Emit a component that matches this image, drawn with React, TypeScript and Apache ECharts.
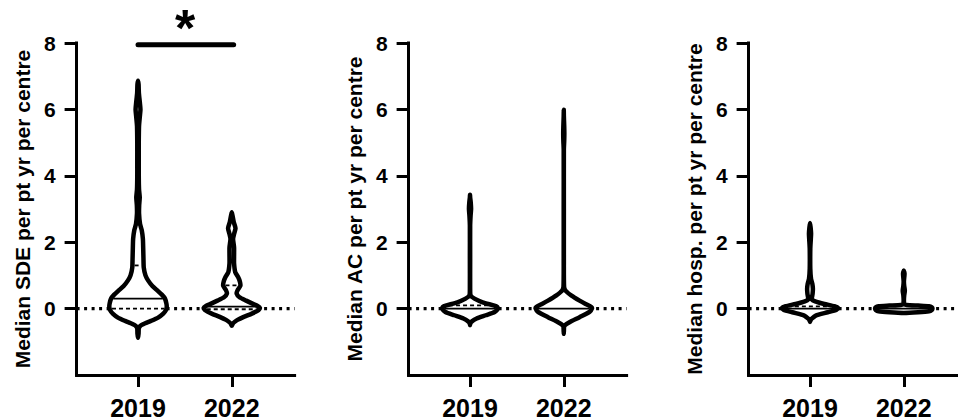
import React, { useEffect, useRef } from "react";
import * as echarts from "echarts";

// ---- data ----
const CATEGORIES = ["2019", "2022"];
const X_POS = [1, 2];
const Y_TICKS = [0, 2, 4, 6, 8];
const PANEL_TITLES = [
  "Median SDE per pt yr per centre",
  "Median AC per pt yr per centre",
  "Median hosp. per pt yr per centre",
];

// violin profiles: [value, relative half-width (density, max = 1)]
const SDE_2019: [number, number][] = [
  [-0.88, 0], [-0.75, 0.02], [-0.6, 0.026], [-0.54, 0.06], [-0.49, 0.13], [-0.44, 0.25],
  [-0.37, 0.45], [-0.27, 0.7], [-0.15, 0.88], [-0.05, 0.97], [0.05, 1.0], [0.15, 0.99],
  [0.3, 0.94], [0.42, 0.83], [0.54, 0.68], [0.68, 0.5], [0.85, 0.35], [1.0, 0.26],
  [1.24, 0.2], [1.5, 0.19], [1.84, 0.18], [2.1, 0.17], [2.36, 0.13], [2.55, 0.07],
  [2.85, 0.037], [3.1, 0.04], [3.35, 0.06], [3.6, 0.035], [4.0, 0.026], [4.5, 0.026],
  [5.0, 0.026], [5.5, 0.035], [5.8, 0.065], [6.0, 0.085], [6.2, 0.065], [6.5, 0.03],
  [6.75, 0.02], [6.86, 0],
];
const SDE_2022: [number, number][] = [
  [-0.52, 0], [-0.46, 0.03], [-0.4, 0.1], [-0.34, 0.2], [-0.25, 0.42], [-0.15, 0.7],
  [-0.05, 0.93], [0.02, 0.98], [0.08, 0.9], [0.15, 0.72], [0.24, 0.5], [0.34, 0.27],
  [0.45, 0.17], [0.55, 0.2], [0.69, 0.3], [0.82, 0.28], [0.95, 0.22], [1.1, 0.12],
  [1.36, 0.08], [1.6, 0.08], [1.84, 0.08], [2.1, 0.045], [2.25, 0.08], [2.42, 0.13],
  [2.6, 0.07], [2.8, 0.026], [2.9, 0],
];
const AC_2019: [number, number][] = [
  [-0.5, 0], [-0.45, 0.01], [-0.4, 0.045], [-0.3, 0.23], [-0.2, 0.55], [-0.1, 0.86],
  [0, 0.97], [0.05, 0.95], [0.09, 0.85], [0.19, 0.44], [0.3, 0.155], [0.4, 0.02],
  [0.6, 0.005], [1.5, 0.005], [2.5, 0.005], [2.8, 0.02], [3.0, 0.037], [3.2, 0.025],
  [3.35, 0.005], [3.43, 0],
];
const AC_2022: [number, number][] = [
  [-0.76, 0], [-0.65, 0.005], [-0.55, 0.01], [-0.51, 0.026], [-0.41, 0.2], [-0.26, 0.55],
  [-0.1, 0.9], [0, 0.98], [0.05, 0.96], [0.14, 0.76], [0.24, 0.55], [0.39, 0.27],
  [0.54, 0.06], [0.66, 0.01], [1.5, 0.003], [3.0, 0.003], [4.8, 0.003], [5.05, 0.015],
  [5.28, 0.02], [5.5, 0.015], [5.8, 0.003], [5.99, 0],
];
const HOSP_2019: [number, number][] = [
  [-0.4, 0], [-0.35, 0.02], [-0.31, 0.05], [-0.21, 0.2], [-0.11, 0.62], [-0.03, 0.93],
  [0.02, 0.98], [0.07, 0.85], [0.14, 0.5], [0.22, 0.18], [0.28, 0.06], [0.35, 0.07],
  [0.45, 0.09], [0.6, 0.1], [0.75, 0.08], [0.9, 0.035], [1.2, 0.01], [1.8, 0.01],
  [2.05, 0.025], [2.26, 0.037], [2.45, 0.02], [2.58, 0],
];
const HOSP_2022: [number, number][] = [
  [-0.13, 0], [-0.11, 0.5], [-0.08, 0.88], [-0.04, 0.98], [0, 1.0], [0.04, 0.98],
  [0.07, 0.88], [0.09, 0.5], [0.11, 0.1], [0.14, 0.02], [0.25, 0.005], [0.4, 0.015],
  [0.54, 0.037], [0.68, 0.015], [0.82, 0.005], [0.97, 0.02], [1.05, 0.026], [1.12, 0.01],
  [1.15, 0],
];

// summary lines inside violins: [value, "m" = median (solid) | "q" = quartile (dashed)]
const SDE_2019_LINES: [number, string][] = [[0.3, "m"], [0, "q"], [1.3, "q"]];
const SDE_2022_LINES: [number, string][] = [[0.06, "m"], [-0.02, "q"], [0.7, "q"]];
const AC_2019_LINES: [number, string][] = [[0, "m"], [0.1, "q"]];
const AC_2022_LINES: [number, string][] = [[0, "m"]];
const HOSP_2019_LINES: [number, string][] = [[0, "m"], [0.07, "q"]];
const HOSP_2022_LINES: [number, string][] = [[0, "m"]];

const PANEL_VIOLINS = [
  [SDE_2019, SDE_2022],
  [AC_2019, AC_2022],
  [HOSP_2019, HOSP_2022],
];
const PANEL_LINES = [
  [SDE_2019_LINES, SDE_2022_LINES],
  [AC_2019_LINES, AC_2022_LINES],
  [HOSP_2019_LINES, HOSP_2022_LINES],
];

// significance bar (panel 1): from 2019 to 2022 at y = 7.95
const SIG_BAR: [number, number][] = [[1, 7.95], [2.02, 7.95]];
const SIG_LABEL = "*";

// ---- layout / style ----
const X_MIN = 0.345;
const X_MAX = 2.67;
const HALF_W = 0.306; // x units for density = 1
const GRID_LEFTS = [76.6, 408.6, 748.6];
const GRID_W = 218;
const GRID_TOP = 43;
const GRID_H = 332;
const OUTLINE = 4.5;
const FONT = "'Liberation Sans', Arial, Helvetica, sans-serif";

function interp(prof: [number, number][], v: number): number {
  for (let i = 0; i < prof.length - 1; i++) {
    const [v0, w0] = prof[i];
    const [v1, w1] = prof[i + 1];
    if (v >= v0 && v <= v1) {
      const t = v1 === v0 ? 0 : (v - v0) / (v1 - v0);
      return w0 + t * (w1 - w0);
    }
  }
  return 0;
}

export default function App() {
  const ref = useRef<HTMLDivElement>(null);
  useEffect(() => {
    if (!ref.current) return;
    const chart = echarts.init(ref.current, null, { renderer: "svg" });

    const grids: any[] = [];
    const xAxes: any[] = [];
    const yAxes: any[] = [];
    const series: any[] = [];

    for (let p = 0; p < 3; p++) {
      grids.push({
        left: GRID_LEFTS[p],
        top: GRID_TOP,
        width: GRID_W,
        height: GRID_H,
        containLabel: false,
        outerBoundsMode: "none",
      });
      xAxes.push({
        type: "value",
        gridIndex: p,
        min: X_MIN,
        max: X_MAX,
        splitLine: { show: false },
        axisLine: { show: true, onZero: false, lineStyle: { color: "#000", width: 3, cap: "square" } },
        axisTick: { show: true, length: 12, customValues: X_POS, lineStyle: { color: "#000", width: 3 } },
        axisLabel: {
          customValues: X_POS,
          formatter: (v: number) => CATEGORIES[X_POS.indexOf(Math.round(v))] ?? "",
          color: "#000",
          fontSize: 25,
          fontWeight: "bold",
          fontFamily: FONT,
          margin: 20,
        },
      });
      yAxes.push({
        type: "value",
        gridIndex: p,
        min: -2,
        max: 8,
        interval: 2,
        name: PANEL_TITLES[p],
        nameLocation: "middle",
        nameGap: 44,
        nameTextStyle: { color: "#000", fontSize: 21, fontWeight: "bold", fontFamily: FONT },
        splitLine: { show: false },
        axisLine: { show: true, onZero: false, lineStyle: { color: "#000", width: 3, cap: "square" } },
        axisTick: { show: true, length: 12, customValues: Y_TICKS, lineStyle: { color: "#000", width: 3 } },
        axisLabel: {
          customValues: Y_TICKS,
          color: "#000",
          fontSize: 21,
          fontWeight: "bold",
          fontFamily: FONT,
          margin: 21,
        },
      });

      // dotted zero line
      series.push({
        type: "line",
        xAxisIndex: p,
        yAxisIndex: p,
        data: [[X_MIN, 0], [X_MAX, 0]],
        symbol: "none",
        silent: true,
        z: 1,
        lineStyle: { color: "#000", width: 3.2, type: [3, 4.5], cap: "butt" },
      });

      const profiles = PANEL_VIOLINS[p];
      const lineSets = PANEL_LINES[p];
      series.push({
        type: "custom",
        xAxisIndex: p,
        yAxisIndex: p,
        z: 3,
        silent: true,
        data: X_POS.map((x, k) => [x, 0, k]),
        encode: { x: 0, y: 1 },
        renderItem: (params: any, api: any) => {
          const x = api.value(0);
          const k = api.value(2);
          const prof = profiles[k];
          const left = prof.map(([v, w]) => api.coord([x - w * HALF_W, v]));
          const right = prof
            .slice(1, -1)
            .reverse()
            .map(([v, w]) => api.coord([x + w * HALF_W, v]));
          const children: any[] = [
            {
              type: "polygon",
              shape: { points: [...left, ...right], smooth: 0.2 },
              style: { fill: "#fff", stroke: "#000", lineWidth: OUTLINE, lineJoin: "round" },
            },
          ];
          for (const [v, kind] of lineSets[k]) {
            const w = interp(prof, v);
            const p1 = api.coord([x - w * HALF_W, v]);
            const p2 = api.coord([x + w * HALF_W, v]);
            const x1 = p1[0] + OUTLINE / 2;
            const x2 = p2[0] - OUTLINE / 2;
            if (x2 <= x1) continue;
            children.push({
              type: "line",
              shape: { x1, y1: p1[1], x2, y2: p2[1] },
              style: {
                stroke: "#000",
                lineWidth: 1.8,
                lineDash: kind === "q" ? [4, 3] : null,
              },
            });
          }
          return { type: "group", children };
        },
      });
    }

    // significance bar
    series.push({
      type: "line",
      xAxisIndex: 0,
      yAxisIndex: 0,
      data: SIG_BAR,
      symbol: "none",
      silent: true,
      z: 4,
      clip: false,
      lineStyle: { color: "#000", width: 5, cap: "round" },
    });

    chart.setOption({
      animation: false,
      backgroundColor: "#fff",
      grid: grids,
      xAxis: xAxes,
      yAxis: yAxes,
      series,
      graphic: [
        {
          type: "text",
          x: 185,
          y: 28,
          style: {
            text: SIG_LABEL,
            fontSize: 52,
            fontWeight: "bold",
            fontFamily: FONT,
            fill: "#000",
            textAlign: "center",
            textVerticalAlign: "middle",
          },
        },
      ],
    });

    return () => chart.dispose();
  }, []);

  return (
    <div
      ref={ref}
      style={{ position: "absolute", left: 0, top: 0, width: 958, height: 420 }}
    />
  );
}
